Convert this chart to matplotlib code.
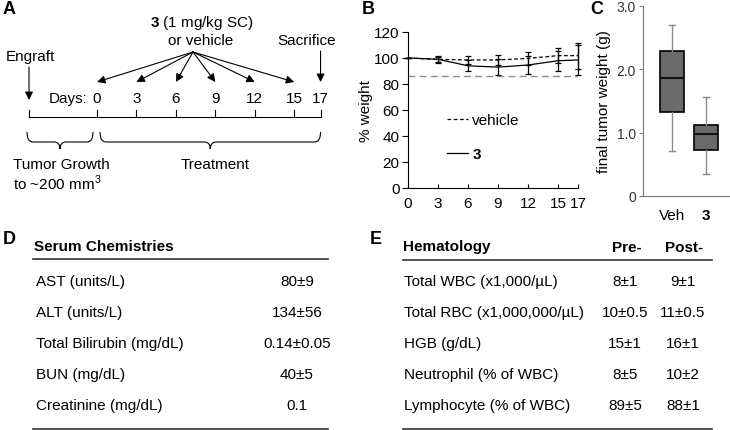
#
# Xenograft study figure: dosing schedule, body weight, tumor weight, and blood panels.
#

import numpy as np
import matplotlib
matplotlib.use('Agg')
from matplotlib import pyplot as plt
from matplotlib.path import Path
from matplotlib.patches import PathPatch

plt.rcParams['font.family'] = ['Liberation Sans', 'DejaVu Sans']
plt.rcParams['mathtext.fontset'] = 'custom'
plt.rcParams['mathtext.rm'] = 'Liberation Sans'
plt.rcParams['mathtext.bf'] = 'Liberation Sans:bold'

# A: schedule
tick_days = [0, 3, 6, 9, 12, 15, 17]
dose_days = [0, 3, 6, 9, 12, 15]

# B: % body weight over time
days = [0, 3, 6, 9, 12, 15, 17]
veh_wt = [100, 99, 98.5, 98.5, 99.7, 101.8, 101.8]
veh_err = [0, 2.5, 3, 3.5, 4.7, 6, 10]
trt_wt = [100, 99, 94, 93, 94.6, 97.9, 98.5]
trt_err = [0, 2, 4.3, 6, 7, 7.7, 11.5]
wt_floor = 86

# C: final tumor weight boxes
box_names = ['Veh', '3']
box_med = [1.87, 0.98]
box_q1 = [1.33, 0.72]
box_q3 = [2.29, 1.12]
box_lo = [0.71, 0.34]
box_hi = [2.70, 1.57]

# D: serum chemistries
chem_names = ['AST (units/L)', 'ALT (units/L)', 'Total Bilirubin (mg/dL)',
              'BUN (mg/dL)', 'Creatinine (mg/dL)']
chem_vals = ['80±9', '134±56', '0.14±0.05', '40±5', '0.1']

# E: hematology
hem_names = ['Total WBC (x1,000/µL)', 'Total RBC (x1,000,000/µL)', 'HGB (g/dL)',
             'Neutrophil (% of WBC)', 'Lymphocyte (% of WBC)']
hem_pre = ['8±1', '10±0.5', '15±1', '8±5', '89±5']
hem_post = ['9±1', '11±0.5', '16±1', '10±2', '88±1']

fs = 11

fig = plt.figure(figsize=(7.3, 4.31), dpi=100)

# background axes in pixel coordinates for the schematic and tables
bg = fig.add_axes([0, 0, 1, 1])
bg.set_xlim(0, 730)
bg.set_ylim(431, 0)
bg.axis('off')

for lab, x, y in [('A', 3, 1), ('B', 362, 1), ('C', 590, 1), ('D', 3, 231), ('E', 370, 231)]:
    bg.text(x, y, lab, fontsize=13, fontweight='bold', va='top', ha='left')

# ---- A: timeline ----
def dx(d):
    return 97 + d * 13.15

x_eng = 29
line_y = 118
bg.plot([x_eng, dx(17)], [line_y, line_y], color='k', lw=0.8)
for x in [x_eng] + [dx(d) for d in tick_days]:
    bg.plot([x, x], [line_y, line_y - 7], color='k', lw=0.8)
for d in tick_days:
    bg.text(dx(d), 99, str(d), ha='center', va='center', fontsize=fs)
bg.text(88, 99, 'Days:', ha='right', va='center', fontsize=fs)

arr = dict(arrowstyle='-|>', color='k', lw=0.8, mutation_scale=12, shrinkA=0, shrinkB=0)
for d in dose_days:
    bg.annotate('', xy=(dx(d), 83), xytext=(193, 53), arrowprops=arr)
bg.annotate('', xy=(x_eng, 101), xytext=(x_eng, 68), arrowprops=arr)
bg.annotate('', xy=(dx(17), 83), xytext=(dx(17), 52), arrowprops=arr)

bg.text(202, 23, r'$\bf{3}$ (1 mg/kg SC)', ha='center', va='center', fontsize=fs)
bg.text(201, 41, 'or vehicle', ha='center', va='center', fontsize=fs)
bg.text(30, 57, 'Engraft', ha='center', va='center', fontsize=fs)
bg.text(307, 41, 'Sacrifice', ha='center', va='center', fontsize=fs)

def brace(x1, x2, top=133, bot=143, tip=150, r=6):
    mid = (x1 + x2) / 2.0
    verts = [(x1, top), (x1, bot), (x1 + r, bot),
             (mid - r, bot), (mid, bot), (mid, tip),
             (mid, bot), (mid + r, bot),
             (x2 - r, bot), (x2, bot), (x2, top)]
    codes = [Path.MOVETO, Path.CURVE3, Path.CURVE3,
             Path.LINETO, Path.CURVE3, Path.CURVE3,
             Path.CURVE3, Path.CURVE3,
             Path.LINETO, Path.CURVE3, Path.CURVE3]
    bg.add_patch(PathPatch(Path(verts, codes), fill=False, edgecolor='k', lw=0.8))

brace(27, 93)
brace(dx(0) + 3, dx(17))
bg.text(13, 165, 'Tumor Growth', ha='left', va='center', fontsize=fs)
bg.text(13, 183, r'to ~200 mm$^3$', ha='left', va='center', fontsize=fs)
bg.text(215, 165, 'Treatment', ha='center', va='center', fontsize=fs)

# ---- B: body weight ----
axB = fig.add_axes([408/730, 1 - 189/431, 170/730, 156/431])
ebv = axB.errorbar(days, veh_wt, yerr=veh_err, color='k', lw=0.9, ls=(0, (3, 2)),
                   capsize=2.5, elinewidth=0.9, capthick=0.9, clip_on=False)
ebt = axB.errorbar(days, trt_wt, yerr=trt_err, color='k', lw=0.9, ls='-',
                   capsize=2.5, elinewidth=0.9, capthick=0.9, clip_on=False)
axB.axhline(wt_floor, color='#8c8c8c', lw=1, ls=(0, (5, 3)))
axB.set_xlim(0, 17)
axB.set_ylim(0, 120)
axB.set_xticks(days)
axB.set_yticks(np.arange(0, 121, 20))
axB.spines['top'].set_visible(False)
axB.spines['right'].set_visible(False)
axB.tick_params(axis='x', direction='in', length=3, pad=6, labelsize=fs)
axB.tick_params(axis='y', direction='out', length=4, pad=2, labelsize=fs)
axB.set_ylabel('% weight', fontsize=fs, labelpad=1)
leg = axB.legend(handles=[ebv[0], ebt[0]], labels=['vehicle', '3'], loc='upper left',
                 bbox_to_anchor=(0.23, 0.48), frameon=False, fontsize=fs,
                 handlelength=1.4, handletextpad=0.25, labelspacing=1.3,
                 borderpad=0, borderaxespad=0)
leg.get_texts()[1].set_fontweight('bold')

# ---- C: tumor weight ----
axC = fig.add_axes([643/730, 1 - 197/431, 87/730, 190/431])
stats = []
for i in range(len(box_names)):
    stats.append(dict(med=box_med[i], q1=box_q1[i], q3=box_q3[i],
                      whislo=box_lo[i], whishi=box_hi[i], label=box_names[i]))
axC.bxp(stats, positions=[1, 2], widths=0.7, patch_artist=True, showfliers=False,
        boxprops=dict(facecolor='#6a6a6a', edgecolor='k', lw=1.2),
        medianprops=dict(color='k', lw=1.2),
        whiskerprops=dict(color='#8a8a8a', lw=1),
        capprops=dict(color='#8a8a8a', lw=1), capwidths=0.2)
axC.set_xlim(0.147, 2.706)
axC.set_ylim(0, 3.0)
axC.set_yticks([0, 1, 2, 3])
axC.set_yticklabels(['0', '1.0', '2.0', '3.0'])
axC.spines['top'].set_visible(False)
axC.spines['right'].set_visible(False)
axC.spines['left'].set_color('#777777')
axC.spines['bottom'].set_color('#777777')
axC.tick_params(axis='x', length=0, pad=9, labelsize=fs)
axC.tick_params(axis='y', length=3, color='#777777', labelcolor='#333333', labelsize=10, pad=2)
axC.get_xticklabels()[1].set_fontweight('bold')
axC.set_ylabel('final tumor weight (g)', fontsize=fs, labelpad=4)

# ---- D: serum chemistries ----
row_y = [282 + 31 * i for i in range(5)]
bg.text(34, 247, 'Serum Chemistries', fontsize=fs, fontweight='bold', va='center')
bg.plot([33, 328], [260, 260], color='#333333', lw=1.2)
for y, n, v in zip(row_y, chem_names, chem_vals):
    bg.text(36, y, n, fontsize=fs, va='center')
    bg.text(297, y, v, fontsize=fs, va='center', ha='center')
bg.plot([33, 328], [430, 430], color='#333333', lw=1.2)

# ---- E: hematology ----
bg.text(403, 247, 'Hematology', fontsize=fs, fontweight='bold', va='center')
bg.text(627, 248, 'Pre-', fontsize=fs, fontweight='bold', va='center', ha='center')
bg.text(684, 248, 'Post-', fontsize=fs, fontweight='bold', va='center', ha='center')
bg.plot([403, 712], [261, 261], color='#333333', lw=1.2)
for y, n, a, b in zip(row_y, hem_names, hem_pre, hem_post):
    bg.text(404, y, n, fontsize=fs, va='center')
    bg.text(625, y, a, fontsize=fs, va='center', ha='center')
    bg.text(683, y, b, fontsize=fs, va='center', ha='center')
bg.plot([403, 712], [430, 430], color='#333333', lw=1.2)

fig.savefig('out.png', dpi=100)
